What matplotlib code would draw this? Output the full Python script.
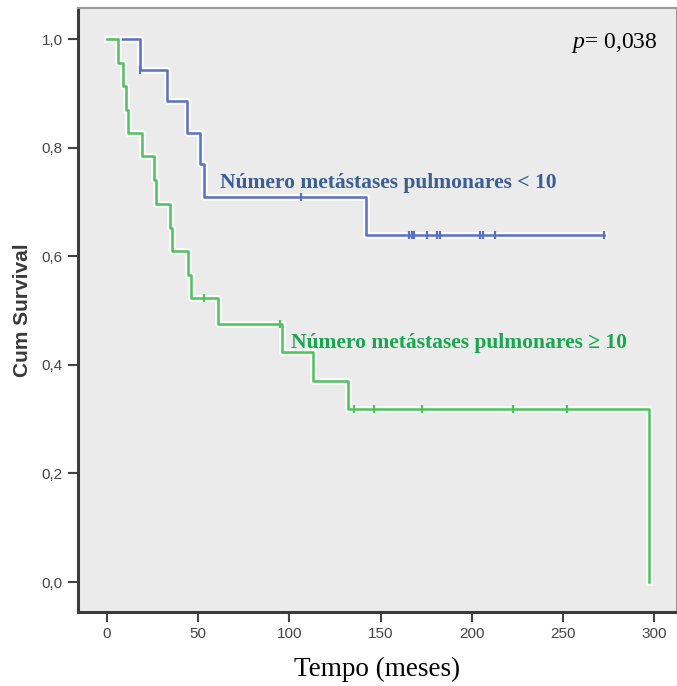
import numpy as np
import matplotlib
matplotlib.use('Agg')
import matplotlib.pyplot as plt
import matplotlib.patheffects as pe

plt.rcParams['mathtext.fontset'] = 'custom'
plt.rcParams['mathtext.rm'] = 'Liberation Serif'
plt.rcParams['mathtext.it'] = 'Liberation Serif:italic'

# Kaplan-Meier steps, metastases < 10
t_low = [0, 18, 33, 44, 51, 53, 142, 272.5]
s_low = [1.0, 0.944, 0.886, 0.828, 0.770, 0.710, 0.639, 0.639]
cens_low = [18, 106.5, 165.6, 167, 168.3, 175.3, 180.8, 182.6, 204.6, 206.4, 212.8, 272.4]

# Kaplan-Meier steps, metastases >= 10
t_high = [0, 6, 9, 10.5, 11.5, 19, 26, 27, 34.5, 35.5, 44.5, 46, 61, 96, 113, 132, 297]
s_high = [1.0, 0.957, 0.913, 0.870, 0.827, 0.784, 0.740, 0.697, 0.653, 0.610,
          0.566, 0.523, 0.476, 0.423, 0.371, 0.318, 0.0]
cens_high = [53, 95, 135.5, 146.5, 173, 222.5, 252]

xticks = [0, 50, 100, 150, 200, 250, 300]
yticks = [0.0, 0.2, 0.4, 0.6, 0.8, 1.0]
ytick_labels = ['0,0', '0,2', '0,4', '0,6', '0,8', '1,0']

BLUE = '#5870c8'
GREEN = '#4dc25f'
halo = [pe.Stroke(linewidth=5, foreground='white', alpha=0.85), pe.Normal()]


def surv_at(times, surv, x):
    i = np.searchsorted(times, x, side='right') - 1
    return surv[i]


fig = plt.figure(figsize=(6.77, 6.86), dpi=100)
ax = fig.add_axes([0.115, 0.108, 0.885, 0.880])
ax.set_facecolor('#ebebeb')

for t, s, c, col in [(t_low, s_low, cens_low, BLUE), (t_high, s_high, cens_high, GREEN)]:
    ax.step(t, s, where='post', color=col, lw=1.8, path_effects=halo, zorder=3)
    cy = [surv_at(t, s, x) for x in c]
    ax.plot(c, cy, ls='none', marker='|', ms=6, mew=1.6, color=col, zorder=4)

ax.set_xlim(-16, 312.6)
ax.set_ylim(-0.055, 1.057)
ax.set_xticks(xticks)
ax.set_xticklabels([str(v) for v in xticks], family='Liberation Sans', fontsize=11, color='#444444')
ax.set_yticks(yticks)
ax.set_yticklabels(ytick_labels, family='Liberation Sans', fontsize=11, color='#444444')
ax.tick_params(direction='out', length=7, width=1.5, color='#444444', pad=4)

for side in ['left', 'bottom']:
    ax.spines[side].set_color('#3c3c3c')
    ax.spines[side].set_linewidth(2.2)
for side in ['top', 'right']:
    ax.spines[side].set_color('#9a9a9a')
    ax.spines[side].set_linewidth(1.5)

ax.set_ylabel('Cum Survival', family='Liberation Sans', fontweight='bold', fontsize=15,
              color='#3a3a3a', labelpad=7)
ax.set_xlabel('Tempo (meses)', family='Liberation Serif', fontsize=19.5, color='black', labelpad=11)

ax.text(62, 0.735, 'Número metástases pulmonares < 10', family='Liberation Serif',
        fontweight='bold', fontsize=15.5, color='#3a5e96', va='center', ha='left')
ax.text(101, 0.44, 'Número metástases pulmonares ≥ 10', family='Liberation Serif',
        fontweight='bold', fontsize=15.5, color='#17a84f', va='center', ha='left')
ax.text(302, 0.993, r'$p$= 0,038', family='Liberation Serif',
        fontsize=17, ha='right', va='center', color='black')

fig.savefig('out.png', dpi=100)
